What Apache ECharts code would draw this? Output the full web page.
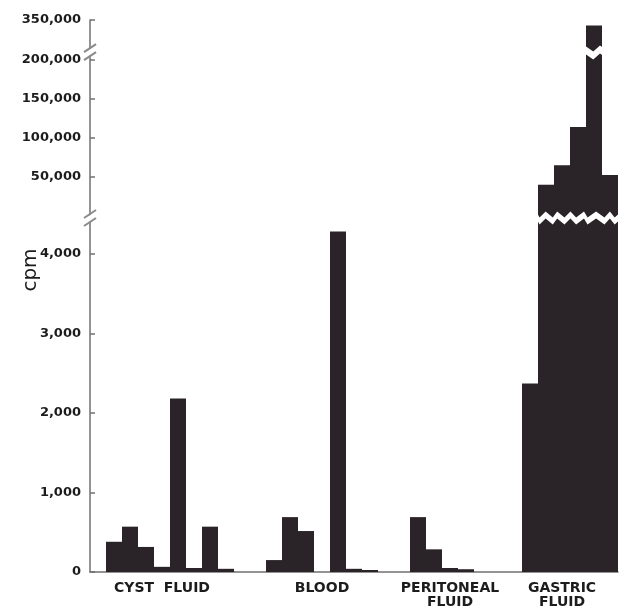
<!DOCTYPE html>
<html><head><meta charset="utf-8">
<script src="https://cdn.jsdelivr.net/npm/echarts@6/dist/echarts.min.js"></script>
<style>html,body{margin:0;padding:0;background:#fff}#c{width:622px;height:609px}</style>
</head><body><div id="c"></div>
<script>
// ---- data (cpm) ----
const cystFluid = [380, 570, 315, 65, 2180, 50, 570, 40];
const blood = [150, 690, 515, 0, 4280, 40, 25];
const peritonealFluid = [690, 285, 50, 35];
const gastricFluid = [2370, 40000, 65000, 114000, 343000, 52500];
const groupNames = ['CYST  FLUID', 'BLOOD', 'PERITONEAL\nFLUID', 'GASTRIC\nFLUID'];
const lowerTicks = [0, 1000, 2000, 3000, 4000];
const upperTicks = [50000, 100000, 150000, 200000, 350000];
const lowerMax = 4400;
const upperMax = 350000;
const upperBreaks = [
  { start: 500, end: 2000, gap: '3.6%' },
  { start: 205000, end: 314000, gap: '4%' }
];

// ---- slot layout ----
const groups = [cystFluid, blood, peritonealFluid, gastricFluid];
const gapsBefore = [1, 2, 2, 3];
const labelOffset = [3, 3, 2, 2];
const values = [], labels = [];
groups.forEach((g, gi) => {
  for (let i = 0; i < gapsBefore[gi]; i++) { values.push(null); labels.push(''); }
  g.forEach((v, i) => { values.push(v); labels.push(i === labelOffset[gi] ? groupNames[gi] : ''); });
});
const slots = values.map((v, i) => String(i));
const upperValues = values.map(v => (v != null && v > lowerMax) ? v : null);

const BAR = '#2a2428';
const AXIS = '#707070';
const TXT = '#1c1c1c';
const fmt = v => Number(v).toLocaleString('en-US');

const chart = echarts.init(document.getElementById('c'), null, { renderer: 'canvas' });
const yLabel = {
  color: TXT, fontFamily: 'DejaVu Sans', fontWeight: 'bold', fontSize: 13, margin: 9, formatter: fmt
};
chart.setOption({
  animation: false,
  backgroundColor: '#fff',
  grid: [
    { left: 90, top: 222, width: 528, height: 350 },
    { left: 90, top: 20, width: 528, height: 202 }
  ],
  xAxis: [
    {
      gridIndex: 0, type: 'category', data: slots,
      axisLine: { lineStyle: { color: AXIS, width: 1.5 } },
      axisTick: { show: false },
      axisLabel: {
        interval: 0, margin: 9, color: TXT, fontFamily: 'DejaVu Sans', fontWeight: 'bold',
        fontSize: 14, lineHeight: 14, align: 'center',
        formatter: (val, idx) => labels[idx]
      }
    },
    { gridIndex: 1, type: 'category', data: slots, show: false }
  ],
  yAxis: [
    {
      gridIndex: 0, type: 'value', min: 0, max: lowerMax,
      splitLine: { show: false },
      axisLine: { show: true, lineStyle: { color: AXIS, width: 1.5 } },
      axisTick: { show: true, inside: true, length: 5, lineStyle: { color: AXIS, width: 1.5 }, customValues: lowerTicks },
      axisLabel: Object.assign({ customValues: lowerTicks }, yLabel)
    },
    {
      gridIndex: 1, type: 'value', min: 0, max: upperMax,
      breaks: upperBreaks,
      breakArea: {
        show: true,
        itemStyle: { color: '#fff', borderColor: '#fff', borderWidth: 0, opacity: 1 },
        zigzagAmplitude: 3, zigzagMinSpan: 3, zigzagMaxSpan: 9, expandOnClick: false
      },
      splitLine: { show: false },
      axisLine: { show: true, lineStyle: { color: AXIS, width: 1.5 } },
      axisTick: { show: true, inside: true, length: 5, lineStyle: { color: AXIS, width: 1.5 }, customValues: upperTicks },
      axisLabel: Object.assign({ customValues: upperTicks }, yLabel)
    }
  ],
  series: [
    {
      type: 'bar', xAxisIndex: 0, yAxisIndex: 0, data: values,
      barCategoryGap: '0%', clip: true, itemStyle: { color: BAR }
    },
    {
      type: 'bar', xAxisIndex: 1, yAxisIndex: 1, data: upperValues,
      barCategoryGap: '0%', clip: true, itemStyle: { color: BAR }
    }
  ]
});

// axis break marks "//" placed at the break positions of the upper axis
const x0 = chart.convertToPixel({ xAxisIndex: 0 }, 0) - 8;
const marks = [];
upperBreaks.forEach(b => {
  const ya = chart.convertToPixel({ yAxisIndex: 1 }, b.start);
  const yb = chart.convertToPixel({ yAxisIndex: 1 }, b.end);
  const yc = (ya + yb) / 2;
  [-4, 4].forEach(d => {
    marks.push({
      type: 'line', z: 100,
      shape: { x1: x0 - 6, y1: yc + d + 4, x2: x0 + 6, y2: yc + d - 4 },
      style: { stroke: '#8a8a8a', lineWidth: 2 }
    });
  });
});
marks.push({
  type: 'text', z: 100, x: 31, y: 270, rotation: Math.PI / 2,
  style: { text: 'cpm', fill: TXT, font: '20px "DejaVu Sans"', align: 'center', verticalAlign: 'middle' }
});
chart.setOption({ graphic: marks });
</script>
</body></html>
